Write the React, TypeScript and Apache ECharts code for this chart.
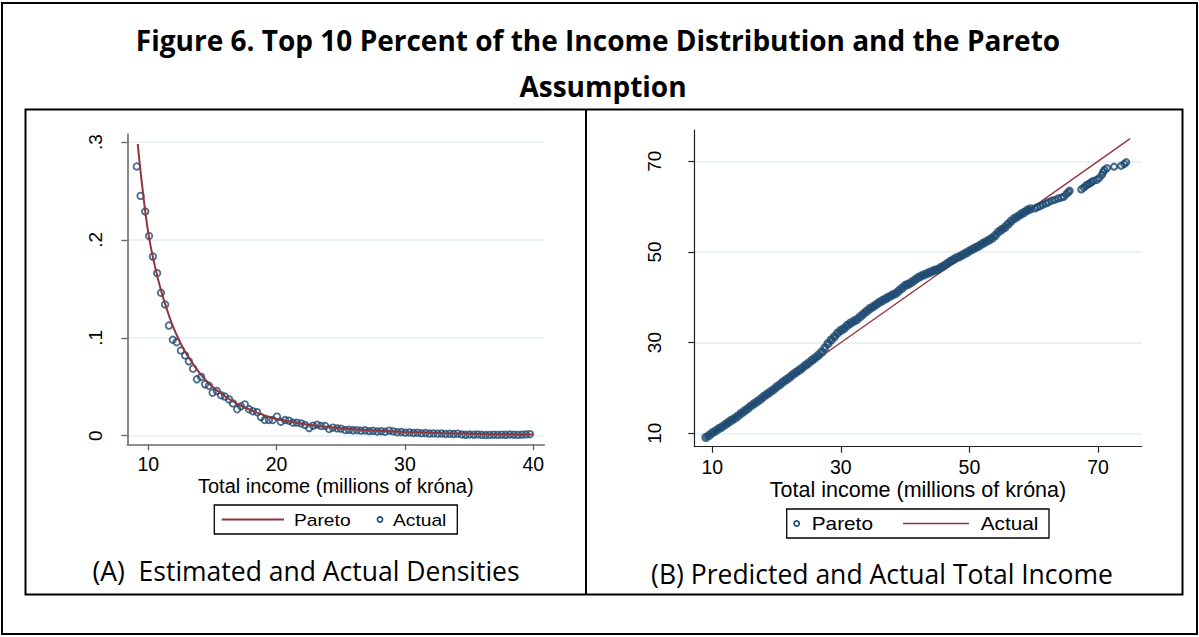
import React, { useEffect, useRef } from "react";
import * as echarts from "echarts";

// ---------- Panel A: densities ----------
const paretoDensX = [9.18, 9.5, 10, 10.5, 11, 11.5, 12, 12.5, 13, 14, 15, 16, 17, 18, 19, 20, 22, 24, 26, 28, 30, 33, 36, 40];
const paretoDensY = [0.298, 0.258, 0.207, 0.174, 0.148, 0.127, 0.109, 0.095, 0.083, 0.064, 0.05, 0.04, 0.032, 0.026, 0.021, 0.017, 0.0122, 0.0088, 0.0066, 0.005, 0.0038, 0.0026, 0.0018, 0.0012];

const actualDensX = [
  9.1, 9.4, 9.76, 10.06, 10.36, 10.69, 10.99, 11.31, 11.61, 11.91, 12.21, 12.54, 12.87, 13.16, 13.49, 13.79, 14.12, 14.42, 14.72, 15.01,
  15.34, 15.67, 15.97, 16.3, 16.6, 16.93, 17.22, 17.52, 17.85, 18.15, 18.48, 18.78, 19.07, 19.4, 19.7, 20.03, 20.33, 20.66, 20.96, 21.28,
  21.58, 21.91, 22.21, 22.54, 22.84, 23.16, 23.46, 23.79, 24.09, 24.39, 24.72, 25.01, 25.34, 25.64, 25.96, 26.27, 26.58, 26.9, 27.21, 27.52,
  27.84, 28.15, 28.46, 28.78, 29.09, 29.4, 29.72, 30.03, 30.34, 30.66, 30.97, 31.28, 31.6, 31.91, 32.22, 32.54, 32.85, 33.16, 33.48, 33.79,
  34.1, 34.42, 34.73, 35.04, 35.36, 35.67, 35.98, 36.3, 36.61, 36.92, 37.24, 37.55, 37.86, 38.18, 38.49, 38.8, 39.12, 39.43, 39.74
];
const actualDensY = [
  0.275, 0.245, 0.229, 0.204, 0.183, 0.166, 0.146, 0.134, 0.1125, 0.098, 0.0955, 0.087, 0.082, 0.076, 0.0685, 0.0576, 0.06, 0.0525, 0.051, 0.044,
  0.0457, 0.0413, 0.04, 0.037, 0.033, 0.027, 0.03, 0.032, 0.027, 0.025, 0.024, 0.019, 0.016, 0.016, 0.016, 0.0195, 0.0143, 0.016, 0.0153, 0.0133,
  0.0133, 0.0126, 0.011, 0.0078, 0.0102, 0.0112, 0.0099, 0.0099, 0.0068, 0.0082, 0.0075, 0.0072, 0.0058, 0.006, 0.0055, 0.0057, 0.0052, 0.0055, 0.0047, 0.005,
  0.0043, 0.0046, 0.004, 0.0052, 0.0044, 0.0035, 0.0037, 0.0031, 0.0033, 0.0028, 0.003, 0.0025, 0.0027, 0.0022, 0.0024, 0.0021, 0.0023, 0.0018, 0.002, 0.0017,
  0.0021, 0.0013, 0.0009, 0.0012, 0.001, 0.0013, 0.0009, 0.0007, 0.0008, 0.001, 0.0008, 0.0011, 0.0009, 0.0012, 0.001, 0.0008, 0.0011, 0.0013, 0.0015
];
const densXTicks = [10, 20, 30, 40];
const densYTicks = [0, 0.1, 0.2, 0.3];

// ---------- Panel B: predicted vs actual total income ----------
// dense body of the scatter (x <= 60)
const incomeBodyX = [
  9, 9.5, 10, 10.5, 11, 11.5, 12, 12.5, 13, 13.5, 14, 14.5, 15, 15.5, 16, 16.5, 17, 17.5, 18, 18.5,
  19, 19.5, 20, 20.5, 21, 21.5, 22, 22.5, 23, 23.5, 24, 24.5, 25, 25.5, 26, 26.5, 27, 27.5, 28, 28.5,
  29, 29.5, 30, 30.5, 31, 31.5, 32, 32.5, 33, 33.5, 34, 34.5, 35, 35.5, 36, 36.5, 37, 37.5, 38, 38.5,
  39, 39.5, 40, 40.5, 41, 41.5, 42, 42.5, 43, 43.5, 44, 44.5, 45, 45.5, 46, 46.5, 47, 47.5, 48, 48.5,
  49, 49.5, 50, 50.5, 51, 51.5, 52, 52.5, 53, 53.5, 54, 54.5, 55, 55.5, 56, 56.5, 57, 57.5, 58, 58.5,
  59, 59.5
];
const incomeBodyY = [
  9.1, 9.5, 10.1, 10.5, 11.0, 11.4, 11.9, 12.4, 12.9, 13.3, 13.8, 14.4, 14.9, 15.4, 16.0, 16.5, 17.0, 17.5, 18.1, 18.6,
  19.1, 19.6, 20.2, 20.7, 21.3, 21.8, 22.3, 22.9, 23.4, 23.9, 24.4, 25.0, 25.5, 26.1, 26.6, 27.2, 27.9, 28.8, 29.8, 30.6,
  31.3, 32.1, 32.7, 33.1, 33.8, 34.3, 34.7, 35.1, 35.7, 36.3, 36.9, 37.5, 37.9, 38.4, 38.9, 39.3, 39.7, 40.1, 40.5, 40.8,
  41.4, 42.0, 42.6, 42.9, 43.3, 43.8, 44.3, 44.7, 45.0, 45.3, 45.6, 45.9, 46.1, 46.5, 46.9, 47.4, 47.9, 48.3, 48.7, 49.0,
  49.4, 49.8, 50.2, 50.6, 51.0, 51.3, 51.8, 52.2, 52.6, 53.0, 53.6, 54.4, 54.9, 55.4, 56.1, 56.8, 57.4, 57.8, 58.3, 58.7,
  59.2, 59.5
];
// sparse upper tail (x > 60)
const incomeTailX = [
  60.2, 60.6, 61.0, 61.4, 61.9, 62.3, 62.8, 63.3, 63.8, 64.3, 64.7, 65.1, 65.4, 65.6,
  67.4, 67.8, 68.1, 68.4, 68.7, 69.0, 69.3, 69.8, 70.2, 70.6, 70.8, 71.0, 71.4, 72.5, 73.6, 74.1, 74.4
];
const incomeTailY = [
  59.6, 59.9, 60.1, 60.4, 60.7, 61.0, 61.3, 61.5, 61.8, 62.0, 62.2, 62.8, 63.2, 63.5,
  63.8, 64.2, 64.6, 64.9, 65.1, 65.4, 65.7, 65.9, 66.3, 67.0, 67.6, 68.1, 68.5, 68.8, 69.0, 69.4, 69.8
];
const lineX = [9, 75];
const lineY = [9, 75];
const incomeTicks = [10, 30, 50, 70];

const NAVY = "#1a476f";
const MAROON = "#90353b";
const GRID = "#e6eef1";
const AXFONT = "Liberation Sans, Arial, sans-serif";
const TITLEFONT = "Open Sans, Noto Sans, sans-serif";

export default function App() {
  const ref = useRef<HTMLDivElement>(null);
  useEffect(() => {
    document.body.style.margin = "0";
    if (!ref.current) return;
    const chart = echarts.init(ref.current, undefined, { renderer: "svg" });

    const hollow = { color: "rgba(255,255,255,0)", borderColor: NAVY, borderWidth: 1.8 };

    const option: any = {
      animation: false,
      backgroundColor: "#ffffff",
      grid: [
        { left: 127.3, top: 134, width: 417, height: 310.3, containLabel: false },
        { left: 694.3, top: 130, width: 447.4, height: 316.7, containLabel: false },
      ],
      xAxis: [
        {
          type: "value", gridIndex: 0, min: 8.364, max: 40.86,
          name: "Total income (millions of króna)", nameLocation: "middle", nameGap: 32,
          nameTextStyle: { fontFamily: AXFONT, fontSize: 20, color: "#000" },
          axisLine: { show: true, onZero: false, lineStyle: { color: "#6a6a6a", width: 1.6 } },
          axisTick: { show: true, length: 6, customValues: densXTicks, lineStyle: { color: "#6a6a6a", width: 1.4 } },
          axisLabel: { customValues: densXTicks, margin: 10, fontFamily: AXFONT, fontSize: 19.5, color: "#000" },
          splitLine: { show: false },
        },
        {
          type: "value", gridIndex: 1, min: 7.2, max: 76.8,
          name: "Total income (millions of króna)", nameLocation: "middle", nameGap: 32,
          nameTextStyle: { fontFamily: AXFONT, fontSize: 21.5, color: "#000" },
          axisLine: { show: true, onZero: false, lineStyle: { color: "#222", width: 1.2 } },
          axisTick: { show: true, length: 6, customValues: incomeTicks, lineStyle: { color: "#222", width: 1.2 } },
          axisLabel: { customValues: incomeTicks, margin: 10, fontFamily: AXFONT, fontSize: 19.5, color: "#000" },
          splitLine: { show: false },
        },
      ],
      yAxis: [
        {
          type: "value", gridIndex: 0, min: -0.0088, max: 0.3082,
          axisLine: { show: true, onZero: false, lineStyle: { color: "#6a6a6a", width: 1.6 } },
          axisTick: { show: true, length: 6, customValues: densYTicks, lineStyle: { color: "#6a6a6a", width: 1.4 } },
          axisLabel: {
            customValues: densYTicks, rotate: 90, margin: 22, fontFamily: AXFONT, fontSize: 19, color: "#000",
            formatter: (v: number) => (v === 0 ? "0" : String(v).replace(/^0\./, ".")),
          },
          splitLine: { show: true, lineStyle: { color: GRID, width: 1.5 } },
        },
        {
          type: "value", gridIndex: 1, min: 7.04, max: 76.9,
          axisLine: { show: true, onZero: false, lineStyle: { color: "#222", width: 1.2 } },
          axisTick: { show: true, length: 6, customValues: incomeTicks, lineStyle: { color: "#222", width: 1.2 } },
          axisLabel: { customValues: incomeTicks, rotate: 90, margin: 30, fontFamily: AXFONT, fontSize: 19, color: "#000" },
          splitLine: { show: true, lineStyle: { color: GRID, width: 1.5 } },
        },
      ],
      series: [
        {
          name: "Actual", type: "scatter", xAxisIndex: 0, yAxisIndex: 0,
          data: actualDensX.map((x, i) => [x, actualDensY[i]]),
          symbol: "circle", symbolSize: 6.5, itemStyle: hollow, z: 2,
        },
        {
          name: "Pareto", type: "line", xAxisIndex: 0, yAxisIndex: 0,
          data: paretoDensX.map((x, i) => [x, paretoDensY[i]]),
          smooth: 0.4, showSymbol: false, lineStyle: { color: MAROON, width: 2 }, z: 3,
        },
        {
          name: "Actual line", type: "line", xAxisIndex: 1, yAxisIndex: 1,
          data: lineX.map((x, i) => [x, lineY[i]]),
          showSymbol: false, lineStyle: { color: MAROON, width: 1.3 }, z: 2,
        },
        {
          name: "Pareto pred", type: "scatter", xAxisIndex: 1, yAxisIndex: 1,
          data: incomeBodyX.map((x, i) => [x, incomeBodyY[i]]),
          symbol: "circle", symbolSize: 5.5, itemStyle: { ...hollow, borderWidth: 3.8 }, z: 3,
        },
        {
          name: "Pareto pred tail", type: "scatter", xAxisIndex: 1, yAxisIndex: 1,
          data: incomeTailX.map((x, i) => [x, incomeTailY[i]]),
          symbol: "circle", symbolSize: 6, itemStyle: { ...hollow, borderWidth: 2.2 }, z: 3,
        },
      ],
      graphic: [
        // outer frame
        { type: "rect", shape: { x: 2, y: 3, width: 1195, height: 631 }, style: { fill: "none", stroke: "#000", lineWidth: 2 }, silent: true },
        // inner frame + divider
        { type: "rect", shape: { x: 25.5, y: 109.5, width: 1157, height: 485 }, style: { fill: "none", stroke: "#000", lineWidth: 2 }, silent: true },
        { type: "line", shape: { x1: 586, y1: 109.5, x2: 586, y2: 594.5 }, style: { stroke: "#000", lineWidth: 2 }, silent: true },
        // main title
        { type: "text", x: 598, y: 40, style: { text: "Figure 6. Top 10 Percent of the Income Distribution and the Pareto", font: `bold 28px ${TITLEFONT}`, fill: "#000", align: "center", verticalAlign: "middle" } },
        { type: "text", x: 603, y: 86, style: { text: "Assumption", font: `bold 28px ${TITLEFONT}`, fill: "#000", align: "center", verticalAlign: "middle" } },
        // panel subtitles
        { type: "text", x: 306, y: 571, style: { text: "(A)  Estimated and Actual Densities", font: `26.5px ${TITLEFONT}`, fill: "#000", align: "center", verticalAlign: "middle" } },
        { type: "text", x: 882, y: 574, style: { text: "(B) Predicted and Actual Total Income", font: `26.5px ${TITLEFONT}`, fill: "#000", align: "center", verticalAlign: "middle" } },
        // legend A
        { type: "rect", shape: { x: 214.3, y: 505, width: 243, height: 29 }, style: { fill: "#fff", stroke: "#000", lineWidth: 1.3 } },
        { type: "line", shape: { x1: 221.7, y1: 519.5, x2: 284, y2: 519.5 }, style: { stroke: MAROON, lineWidth: 2 } },
        { type: "text", x: 294, y: 520, scaleX: 1.13, style: { text: "Pareto", font: `17px ${AXFONT}`, fill: "#000", align: "left", verticalAlign: "middle" } },
        { type: "circle", shape: { cx: 380, cy: 519.5, r: 2.6 }, style: { fill: "none", stroke: NAVY, lineWidth: 1.6 } },
        { type: "text", x: 393, y: 520, scaleX: 1.13, style: { text: "Actual", font: `17px ${AXFONT}`, fill: "#000", align: "left", verticalAlign: "middle" } },
        // legend B
        { type: "rect", shape: { x: 786.7, y: 509, width: 262.3, height: 29 }, style: { fill: "#fff", stroke: "#000", lineWidth: 1.3 } },
        { type: "circle", shape: { cx: 796.7, cy: 523.5, r: 2.6 }, style: { fill: "none", stroke: NAVY, lineWidth: 1.6 } },
        { type: "text", x: 811.7, y: 524, scaleX: 1.156, style: { text: "Pareto", font: `18px ${AXFONT}`, fill: "#000", align: "left", verticalAlign: "middle" } },
        { type: "line", shape: { x1: 903, y1: 523.5, x2: 969, y2: 523.5 }, style: { stroke: MAROON, lineWidth: 1.3 } },
        { type: "text", x: 980.7, y: 524, scaleX: 1.156, style: { text: "Actual", font: `18px ${AXFONT}`, fill: "#000", align: "left", verticalAlign: "middle" } },
      ],
    };
    chart.setOption(option);
    return () => chart.dispose();
  }, []);
  return <div ref={ref} style={{ width: 1199, height: 637 }} />;
}
